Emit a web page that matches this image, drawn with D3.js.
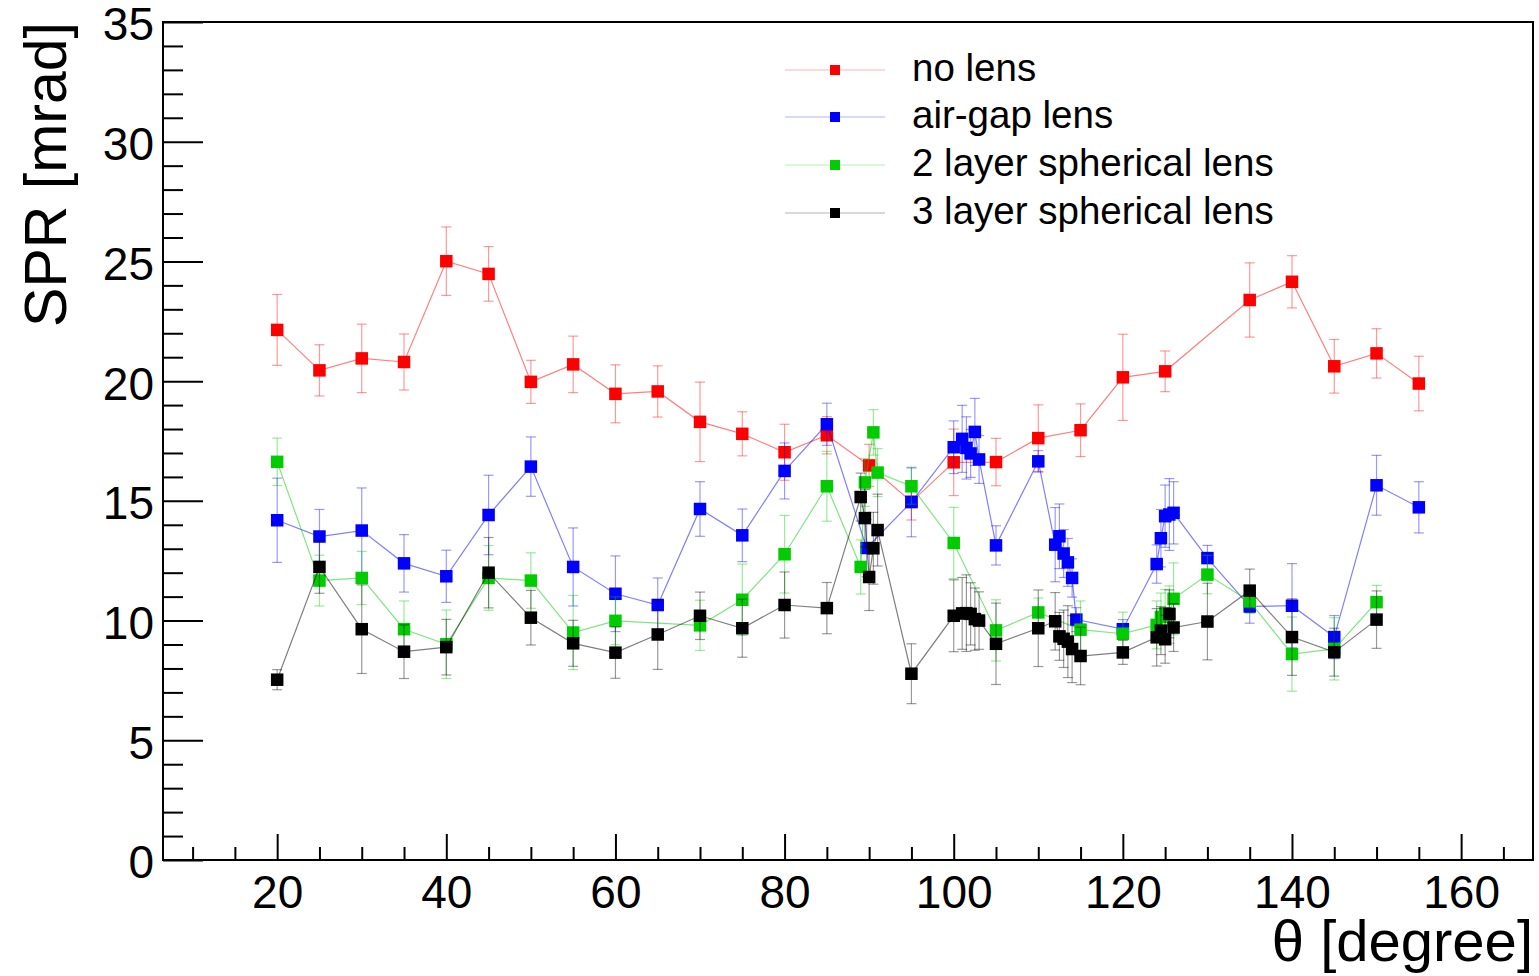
<!DOCTYPE html>
<html><head><meta charset="utf-8">
<script src="https://cdn.jsdelivr.net/npm/d3@7"></script>
<style>
html,body{margin:0;padding:0;background:#fff;}
svg{display:block;font-family:"Liberation Sans",Arial,Helvetica,sans-serif;}
</style></head>
<body>
<svg id="chart" width="1539" height="976"></svg>
<script>
// ---- data ----
const seriesNames = ["no lens", "air-gap lens", "2 layer spherical lens", "3 layer spherical lens"];
const seriesColors = ["#ff0000", "#0000ff", "#00cc00", "#000000"];

const noLensTheta = [20,25,30,35,40,45,50,55,60,65,70,75,80,85,90,95,100,105,110,115,120,125,135,140,145,150,155];
const noLensSPR   = [22.14,20.45,20.95,20.80,25.01,24.48,19.97,20.70,19.47,19.57,18.30,17.80,17.03,17.74,16.48,14.96,16.61,16.62,17.62,17.95,20.16,20.41,23.39,24.15,20.62,21.16,19.90];
const noLensErr   = [1.48,1.07,1.43,1.17,1.43,1.14,0.90,1.18,1.21,1.07,1.66,0.92,1.17,0.78,0.88,0.76,1.39,0.99,1.39,1.10,1.80,0.85,1.55,1.09,1.12,1.03,1.14];

const airGapTheta = [20,25,30,35,40,45,50,55,60,65,70,75,80,85,89.7,95,100,101,101.5,102,102.5,103,105,110,112,112.5,113,113.5,114,114.5,120,124,124.5,125,125.5,126,130,135,140,145,150,155];
const airGapSPR   = [14.19,13.51,13.76,12.39,11.85,14.41,16.43,12.24,11.12,10.65,14.66,13.56,16.25,18.20,13.03,14.95,17.24,17.59,17.21,16.98,17.88,16.73,13.14,16.65,13.17,13.52,12.80,12.43,11.78,10.04,9.64,12.36,13.44,14.36,14.43,14.50,12.61,10.59,10.62,9.31,15.65,14.73];
const airGapErr   = [1.76,1.13,1.78,1.20,1.09,1.66,1.24,1.63,1.58,1.13,1.14,1.10,1.17,0.88,1.20,1.45,1.10,1.40,1.30,1.00,1.40,1.00,0.82,0.45,1.55,1.35,1.00,1.00,0.80,0.50,0.40,0.80,1.20,1.30,1.50,1.30,0.53,0.70,1.76,0.90,1.25,1.07];

const twoLayerTheta = [20,25,30,35,40,45,50,55,60,70,75,80,85,89,89.5,90.5,91,95,100,105,110,115,120,124,124.5,125,125.5,126,130,135,140,145,150];
const twoLayerSPR   = [16.63,11.67,11.78,9.64,9.01,11.78,11.67,9.50,9.99,9.80,10.87,12.77,15.61,12.24,15.77,17.86,16.18,15.61,13.24,9.59,10.34,9.62,9.45,9.82,10.15,10.30,10.25,10.91,11.92,10.80,8.60,8.82,10.77];
const twoLayerErr   = [0.99,1.06,1.11,1.18,1.43,1.35,1.16,1.55,1.00,1.05,1.49,1.62,1.46,1.13,1.00,0.95,1.00,0.75,1.49,1.28,0.60,1.20,0.90,1.00,1.00,1.00,1.20,1.50,0.80,0.50,1.55,1.30,0.70];

const threeLayerTheta = [20,25,30,35,40,45,50,55,60,65,70,75,80,85,89,89.5,90,90.5,91,95,100,101,101.5,102,102.5,103,105,110,112,112.5,113,113.5,114,115,120,124,124.5,125,125.5,126,130,135,140,145,150];
const threeLayerSPR   = [7.53,12.24,9.64,8.70,8.89,12.00,10.12,9.05,8.66,9.42,10.20,9.68,10.65,10.52,15.16,14.28,11.82,13.02,13.78,7.78,10.20,10.30,10.31,10.28,10.06,10.00,9.03,9.68,9.97,9.34,9.24,9.12,8.81,8.52,8.67,9.30,9.58,9.22,10.28,9.71,9.96,11.25,9.31,8.68,10.04];
const threeLayerErr   = [0.42,1.10,1.85,1.12,1.16,1.47,1.14,0.96,1.07,1.46,0.99,1.21,1.38,1.07,1.00,1.20,1.40,1.50,1.50,1.25,1.50,1.50,1.60,1.30,1.30,1.20,1.70,1.60,1.20,1.00,1.20,1.50,1.40,1.20,0.50,1.20,1.00,1.00,1.00,1.00,1.60,0.90,1.60,1.00,1.20];

const xMajorTicks = [20,40,60,80,100,120,140,160];
const yMajorTicks = [0,5,10,15,20,25,30,35];
const xTitle = "θ [degree]";
const yTitle = "SPR [mrad]";

// ---- build ----
const series = [
  {theta: noLensTheta, v: noLensSPR, e: noLensErr},
  {theta: airGapTheta, v: airGapSPR, e: airGapErr},
  {theta: twoLayerTheta, v: twoLayerSPR, e: twoLayerErr},
  {theta: threeLayerTheta, v: threeLayerSPR, e: threeLayerErr}
].map((s, i) => ({
  name: seriesNames[i], color: seriesColors[i],
  pts: s.theta.map((t, j) => ({x: t, y: s.v[j], e: s.e[j]}))
}));

const svg = d3.select("#chart");
const L = 163, R = 1533, T = 22, B = 860;
const x = d3.scaleLinear().domain([6.5, 168.5]).range([L, R]);
const y = d3.scaleLinear().domain([0, 35]).range([B, T]);

// frame
svg.append("rect").attr("x", L).attr("y", T).attr("width", R - L).attr("height", B - T)
  .attr("fill", "none").attr("stroke", "#000").attr("stroke-width", 2);

// axes
const xMinor = d3.range(10, 168, 5).filter(v => !xMajorTicks.includes(v));
const yMinor = d3.range(0, 35.01, 1).filter(v => !yMajorTicks.includes(v));

function styleAxis(g) {
  g.select(".domain").remove();
  g.selectAll(".tick line").attr("stroke", "#000").attr("stroke-width", 2);
  g.selectAll(".tick text").attr("fill", "#000").attr("font-size", 46)
    .attr("font-family", "'Liberation Sans',Arial,Helvetica,sans-serif");
}

svg.append("g").attr("transform", `translate(0,${B})`)
  .call(d3.axisBottom(x).tickValues(xMinor).tickSize(-13).tickFormat(""))
  .call(styleAxis);
svg.append("g").attr("transform", `translate(0,${B})`)
  .call(d3.axisBottom(x).tickValues(xMajorTicks).tickSize(-26).tickPadding(0).tickFormat(d3.format("d")))
  .call(styleAxis)
  .call(g => g.selectAll(".tick text").attr("y", 48).attr("dy", 0));

svg.append("g").attr("transform", `translate(${L},0)`)
  .call(d3.axisLeft(y).tickValues(yMinor).tickSize(-20).tickFormat(""))
  .call(styleAxis);
svg.append("g").attr("transform", `translate(${L},0)`)
  .call(d3.axisLeft(y).tickValues(yMajorTicks).tickSize(-40).tickFormat(d3.format("d")))
  .call(styleAxis)
  .call(g => g.selectAll(".tick text").attr("x", -9).attr("dy", "0.39em"));

// titles
svg.append("text").attr("x", R).attr("y", 961).attr("text-anchor", "end")
  .attr("font-size", 58).attr("fill", "#000").text(xTitle);
svg.append("text").attr("transform", `translate(66,${T}) rotate(-90)`).attr("text-anchor", "end")
  .attr("font-size", 59).attr("fill", "#000").text(yTitle);

// series
const line = d3.line().x(d => x(d.x)).y(d => y(d.y));
const MS = 12.5, CAP = 5;
series.forEach(s => {
  const g = svg.append("g");
  g.append("path").datum(s.pts).attr("d", line).attr("fill", "none")
    .attr("stroke", s.color).attr("stroke-opacity", 0.5).attr("stroke-width", 1.2);
  const eb = g.append("g").attr("stroke", s.color).attr("stroke-opacity", 0.4).attr("stroke-width", 1.2);
  s.pts.forEach(p => {
    const xp = x(p.x), y1 = y(p.y + p.e), y2 = y(p.y - p.e);
    eb.append("line").attr("x1", xp).attr("x2", xp).attr("y1", y1).attr("y2", y2);
    eb.append("line").attr("x1", xp - CAP).attr("x2", xp + CAP).attr("y1", y1).attr("y2", y1);
    eb.append("line").attr("x1", xp - CAP).attr("x2", xp + CAP).attr("y1", y2).attr("y2", y2);
  });
  g.selectAll("rect.m").data(s.pts).join("rect").attr("class", "m")
    .attr("x", d => x(d.x) - MS / 2).attr("y", d => y(d.y) - MS / 2)
    .attr("width", MS).attr("height", MS).attr("fill", s.color);
});

// legend
const legY = [70, 117, 165, 213];
series.forEach((s, i) => {
  const g = svg.append("g");
  g.append("line").attr("x1", 785).attr("x2", 885).attr("y1", legY[i]).attr("y2", legY[i])
    .attr("stroke", s.color).attr("stroke-opacity", 0.3).attr("stroke-width", 1.2);
  g.append("rect").attr("x", 835 - 5).attr("y", legY[i] - 5).attr("width", 10).attr("height", 10)
    .attr("fill", s.color);
  g.append("text").attr("x", 912).attr("y", legY[i] + 11).attr("font-size", 38.5).attr("fill", "#000").text(s.name);
});
</script>
</body></html>
